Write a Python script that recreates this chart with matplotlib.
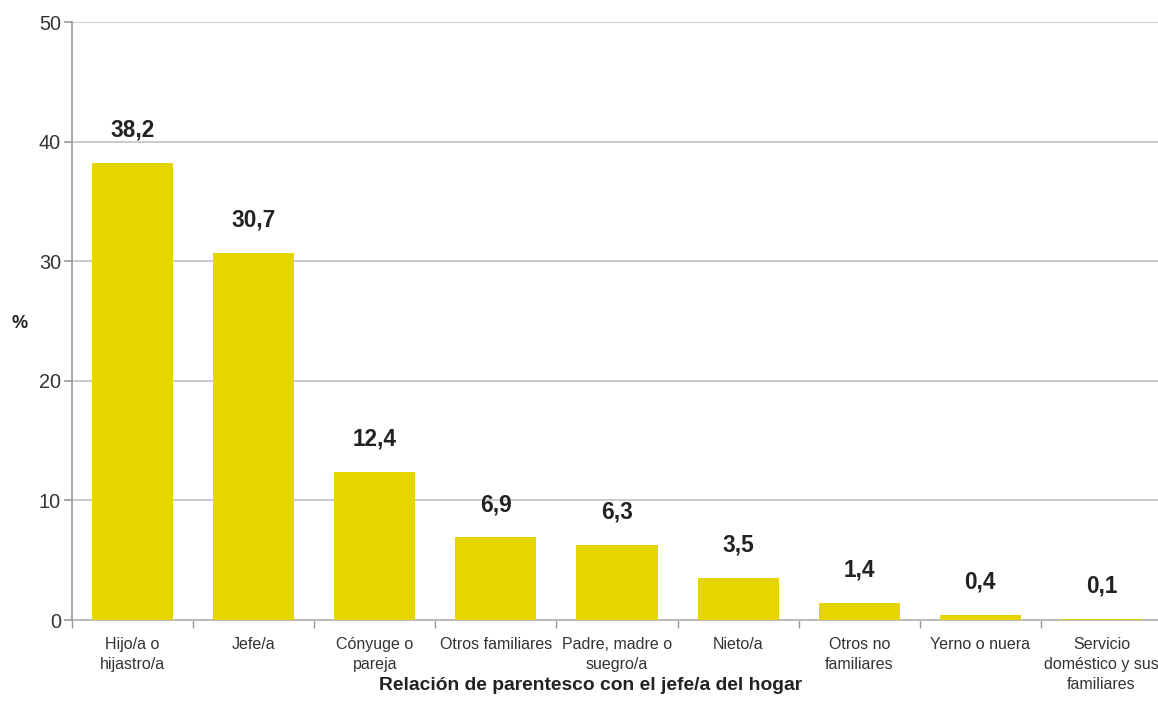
import matplotlib.pyplot as plt
import numpy as np
from matplotlib.ticker import FixedLocator

plt.rcParams['font.family'] = ['Liberation Sans', 'DejaVu Sans']

# Distribución por relación de parentesco con el jefe/a del hogar
categorias = [
    "Hijo/a o\nhijastro/a",
    "Jefe/a",
    "Cónyuge o\npareja",
    "Otros familiares",
    "Padre, madre o\nsuegro/a",
    "Nieto/a",
    "Otros no\nfamiliares",
    "Yerno o nuera",
    "Servicio\ndoméstico y sus\nfamiliares",
]
porcentajes = [38.2, 30.7, 12.4, 6.9, 6.3, 3.5, 1.4, 0.4, 0.1]
yticks = [0, 10, 20, 30, 40, 50]

bar_color = "#E6D600"
grid_color = "#BDBDBD"
text_color = "#333333"

fig = plt.figure(figsize=(11.58, 7.22), dpi=100)
ax = fig.add_axes([72 / 1158, 1 - 620 / 722, 1090 / 1158, 598 / 722])

x = np.arange(len(categorias))
ax.bar(x, porcentajes, width=0.67, color=bar_color, zorder=3)

for xi, v in zip(x, porcentajes):
    ax.annotate(f"{v:.1f}".replace(".", ","), (xi, v), xytext=(0, 19),
                textcoords="offset points", ha="center", va="baseline",
                fontsize=16.3, fontweight="bold", color="#222222")

ax.set_xlim(-0.5, len(categorias) - 0.5)
ax.set_ylim(0, 50)
ax.set_yticks(yticks)
ax.yaxis.grid(True, color=grid_color, linewidth=1.1, zorder=0)

ax.set_xticks(x)
ax.set_xticklabels(categorias, fontsize=11.5, color=text_color, linespacing=1.45)
ax.xaxis.set_minor_locator(FixedLocator(np.arange(-0.5, len(categorias), 1.0)))
ax.tick_params(axis="x", which="major", length=0, pad=12)
ax.tick_params(axis="x", which="minor", length=6, width=1, color="#999999")
ax.tick_params(axis="y", length=6, width=1.2, color="#999999",
               labelsize=14.3, labelcolor=text_color, pad=2)

for side in ("top", "right"):
    ax.spines[side].set_visible(False)
ax.spines["left"].set_color("#999999")
ax.spines["bottom"].set_color("#BBBBBB")
ax.spines["left"].set_linewidth(1.2)
ax.spines["bottom"].set_linewidth(1.5)
ax.spines["bottom"].set_zorder(2)

fig.text(20 / 1158, 1 - 323 / 722, "%", ha="center", va="center",
         fontsize=13, fontweight="bold", color="#222222")
fig.text(591 / 1158, 1 - 686 / 722, "Relación de parentesco con el jefe/a del hogar",
         ha="center", va="center", fontsize=13.9, fontweight="bold", color="#222222")

fig.savefig("out.png", dpi=100)
